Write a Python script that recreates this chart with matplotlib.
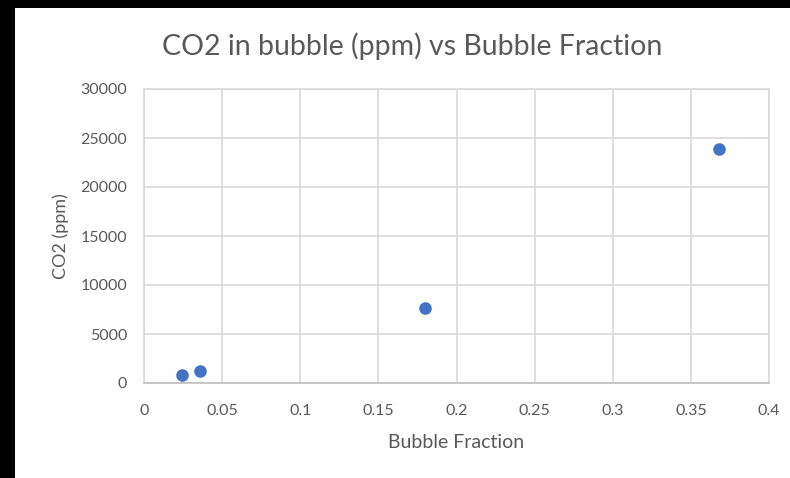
import matplotlib.pyplot as plt
from matplotlib.patches import Rectangle

# data
bubble_fraction = [0.024, 0.036, 0.18, 0.368]
co2_ppm = [850, 1250, 7700, 23900]
x_ticks = [0, 0.05, 0.1, 0.15, 0.2, 0.25, 0.3, 0.35, 0.4]
x_labels = ['0', '0.05', '0.1', '0.15', '0.2', '0.25', '0.3', '0.35', '0.4']
y_ticks = [0, 5000, 10000, 15000, 20000, 25000, 30000]

plt.rcParams['font.family'] = ['Lato', 'DejaVu Sans']
grey_text = '#595959'
grid_col = '#d9d9d9'

fig = plt.figure(figsize=(7.9, 4.78), dpi=100, facecolor='white')
# black frame at left and top of the screenshot
fig.patches.append(Rectangle((0, 0), 15/790, 1, transform=fig.transFigure,
                             facecolor='black', edgecolor='none', zorder=-10))
fig.patches.append(Rectangle((0, 1 - 8/478), 1, 8/478, transform=fig.transFigure,
                             facecolor='black', edgecolor='none', zorder=-10))

ax = fig.add_axes([144/790, 1 - 383/478, (769-144)/790, (383-89)/478])
ax.scatter(bubble_fraction, co2_ppm, s=82, color='#4472C4', zorder=3, linewidths=0)

ax.set_xlim(0, 0.4)
ax.set_ylim(0, 30000)
ax.set_xticks(x_ticks)
ax.set_xticklabels(x_labels)
ax.set_yticks(y_ticks)
ax.grid(True, color=grid_col, linewidth=1.2)
ax.set_axisbelow(True)
for s in ax.spines.values():
    s.set_color(grid_col)
    s.set_linewidth(1.2)
ax.spines['bottom'].set_color('#bfbfbf')
ax.tick_params(length=0, labelsize=11.5, colors=grey_text, pad=12)
ax.tick_params(axis='x', pad=15)

ax.set_xlabel('Bubble Fraction', fontsize=14, color=grey_text, labelpad=12)
ax.set_ylabel('CO2 (ppm)', fontsize=13, color=grey_text, labelpad=8)
fig.text(412/790, 1 - 46/478, 'CO2 in bubble (ppm) vs Bubble Fraction',
         ha='center', va='center', fontsize=20.5, color=grey_text)

fig.savefig('out.png', dpi=100)
